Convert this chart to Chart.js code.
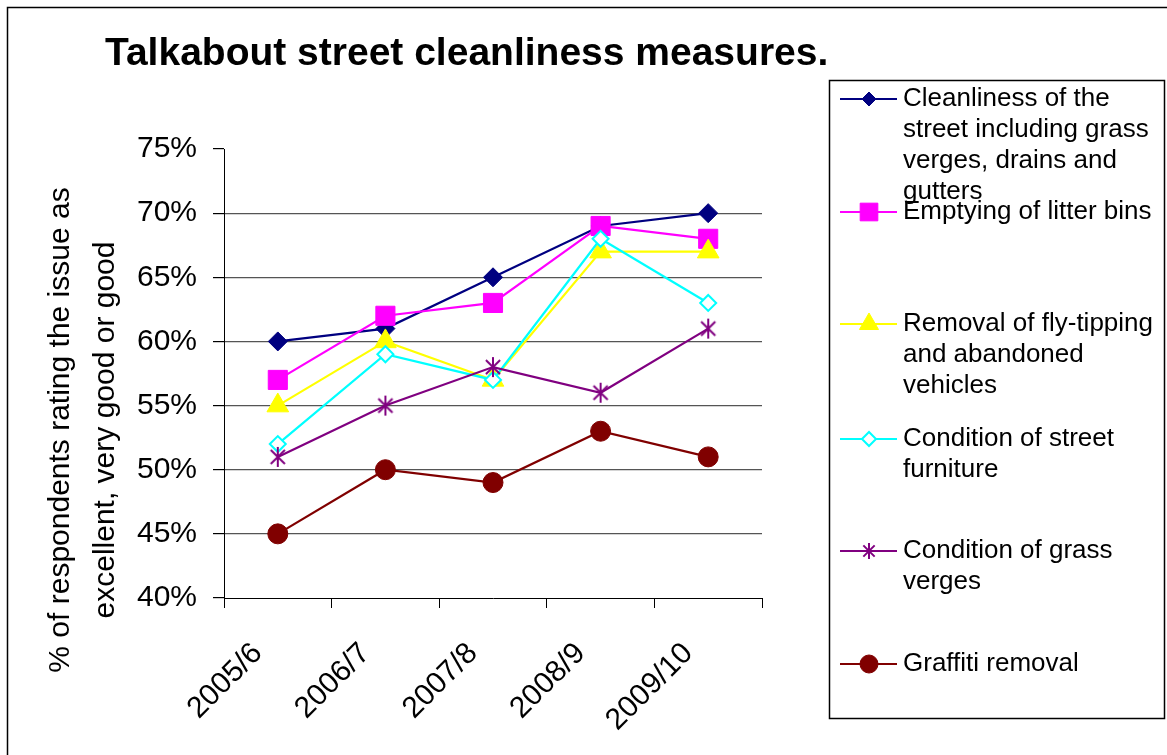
<!DOCTYPE html>
<html>
<head>
<meta charset="utf-8">
<title>Talkabout street cleanliness measures</title>
<script src="https://cdn.jsdelivr.net/npm/chart.js@4.4.1/dist/chart.umd.min.js"></script>
<style>
    html, body { margin: 0; padding: 0; background: #fff; }
    #wrap { position: relative; width: 1167px; height: 755px; overflow: hidden; }
</style>
</head>
<body>
<div id="wrap"><canvas id="cleanlinessChart" width="1167" height="755"></canvas></div>
<script>
const years = ['2005/6', '2006/7', '2007/8', '2008/9', '2009/10'];

const cleanliness = [60, 61, 65, 69, 70];
const litterBins = [57, 62, 63, 69, 68];
const flyTipping = [55, 60, 57, 67, 67];
const streetFurniture = [52, 59, 57, 68, 63];
const grassVerges = [51, 55, 58, 56, 61];
const graffiti = [45, 50, 49, 53, 51];

const legendLines = [
    ['Cleanliness of the', 'street including grass', 'verges, drains and', 'gutters'],
    ['Emptying of litter bins'],
    ['Removal of fly-tipping', 'and abandoned', 'vehicles'],
    ['Condition of street', 'furniture'],
    ['Condition of grass', 'verges'],
    ['Graffiti removal']
];

const chartTitle = 'Talkabout street cleanliness measures.';
const yTitle = ['% of respondents rating the issue as', 'excellent, very good or good'];

const FONT = "'Liberation Sans', Arial, Helvetica, sans-serif";
Chart.defaults.font.family = FONT;
Chart.defaults.color = '#000';

// Excel style asterisk marker (X plus a vertical bar)
function makeAsterisk(r, color, lw) {
    const c = document.createElement('canvas');
    const s = Math.ceil(2 * r + lw + 2);
    c.width = c.height = s;
    const g = c.getContext('2d');
    const m = s / 2, d = r * Math.SQRT1_2;
    g.strokeStyle = color;
    g.lineWidth = lw;
    g.beginPath();
    g.moveTo(m, m - r); g.lineTo(m, m + r);
    g.moveTo(m - d, m - d); g.lineTo(m + d, m + d);
    g.moveTo(m - d, m + d); g.lineTo(m + d, m - d);
    g.stroke();
    return c;
}

const starChart = makeAsterisk(10, '#800080', 2);
const starLegend = makeAsterisk(8, '#800080', 2);

function series(label, data, color, style, radius, legendRadius, fill) {
    return {
        label: label,
        data: data,
        borderColor: color,
        backgroundColor: color,
        borderWidth: 2.2,
        tension: 0,
        pointStyle: style,
        pointRadius: radius,
        pointBackgroundColor: fill || color,
        pointBorderColor: color,
        pointBorderWidth: fill ? 2 : 1,
        legendRadius: legendRadius,
        legendStyle: style === starChart ? starLegend : style
    };
}

const datasets = [
    series(legendLines[0].join(' '), cleanliness, '#000080', 'rectRot', 9.5, 7),
    series(legendLines[1].join(' '), litterBins, '#FF00FF', 'rect', 13.5, 12.5),
    series(legendLines[2].join(' '), flyTipping, '#FFFF00', 'triangle', 12.5, 11),
    series(legendLines[3].join(' '), streetFurniture, '#00FFFF', 'rectRot', 8, 7, '#FFFFFF'),
    series(legendLines[4].join(' '), grassVerges, '#800080', starChart, 10, 8),
    series(legendLines[5].join(' '), graffiti, '#800000', 'circle', 10, 9)
];
// later series sit on top, as in the original
datasets.forEach((ds, i) => { ds.order = datasets.length - i; });

const decor = {
    id: 'decor',
    beforeDraw(chart) {
        const ctx = chart.ctx;
        ctx.save();
        ctx.fillStyle = '#fff';
        ctx.fillRect(0, 0, chart.width, chart.height);
        ctx.strokeStyle = '#000';
        ctx.lineWidth = 1.5;
        ctx.strokeRect(7.5, 7.5, chart.width + 20, chart.height + 20);
        ctx.restore();
    },
    afterDraw(chart) {
        const ctx = chart.ctx;
        ctx.save();

        // title
        ctx.fillStyle = '#000';
        ctx.font = 'bold 39px ' + FONT;
        ctx.textAlign = 'left';
        ctx.textBaseline = 'alphabetic';
        ctx.fillText(chartTitle, 105, 65);

        // y axis title, two lines
        ctx.font = '30px ' + FONT;
        ctx.textAlign = 'center';
        ctx.textBaseline = 'middle';
        const yMid = 430;
        [61, 106].forEach((x, i) => {
            ctx.save();
            ctx.translate(x, yMid);
            ctx.rotate(-Math.PI / 2);
            ctx.fillText(yTitle[i], 0, 0);
            ctx.restore();
        });

        // legend box
        ctx.strokeStyle = '#000';
        ctx.lineWidth = 1.5;
        ctx.strokeRect(829.5, 80.5, 335, 638);

        const itemY = [99, 212, 324, 439, 551, 664];
        const lineGap = 31;
        ctx.font = '26px ' + FONT;
        ctx.textAlign = 'left';
        chart.data.datasets.forEach((ds, i) => {
            const y = itemY[i];
            ctx.strokeStyle = ds.borderColor;
            ctx.lineWidth = 2;
            ctx.beginPath();
            ctx.moveTo(840, y);
            ctx.lineTo(897, y);
            ctx.stroke();

            ctx.fillStyle = ds.pointBackgroundColor;
            ctx.strokeStyle = ds.pointBorderColor;
            ctx.lineWidth = ds.pointBorderWidth;
            Chart.helpers.drawPoint(ctx, {
                pointStyle: ds.legendStyle,
                radius: ds.legendRadius,
                rotation: 0,
                borderWidth: ds.pointBorderWidth
            }, 869, y);

            ctx.fillStyle = '#000';
            legendLines[i].forEach((txt, k) => {
                ctx.fillText(txt, 903, y + k * lineGap);
            });
        });

        ctx.restore();
    }
};

function initChart() {
    const canvas = document.getElementById('cleanlinessChart');
    if (!canvas) return;
    const ctx = canvas.getContext('2d');

    new Chart(ctx, {
        type: 'line',
        data: {
            labels: years,
            datasets: datasets
        },
        options: {
            responsive: false,
            animation: false,
            devicePixelRatio: 1,
            layout: {
                padding: { left: 0, right: 405, top: 149, bottom: 0 }
            },
            scales: {
                x: {
                    offset: true,
                    grid: {
                        offset: true,
                        drawOnChartArea: false,
                        drawTicks: true,
                        tickLength: 10,
                        tickColor: '#000'
                    },
                    border: { display: true, color: '#000', width: 1 },
                    ticks: {
                        font: { size: 30 },
                        color: '#000',
                        minRotation: 45,
                        maxRotation: 45,
                        padding: 28,
                        labelOffset: -20
                    },
                    afterFit: function (scale) { scale.height = 157; }
                },
                y: {
                    min: 40,
                    max: 75,
                    ticks: {
                        stepSize: 5,
                        font: { size: 30 },
                        color: '#000',
                        padding: 16,
                        callback: function (value) { return value + '%'; }
                    },
                    grid: {
                        color: function (context) {
                            const v = context.tick && context.tick.value;
                            return (v === 75 || v === 40) ? 'rgba(0,0,0,0)' : '#555';
                        },
                        lineWidth: 1.2,
                        tickLength: 11,
                        tickColor: '#000'
                    },
                    border: { display: true, color: '#000', width: 1 },
                    afterFit: function (scale) { scale.width = 224; }
                }
            },
            plugins: {
                legend: { display: false },
                title: { display: false },
                tooltip: { enabled: false }
            }
        },
        plugins: [decor]
    });
}

document.addEventListener('DOMContentLoaded', function () {
    initChart();
});
</script>
</body>
</html>
